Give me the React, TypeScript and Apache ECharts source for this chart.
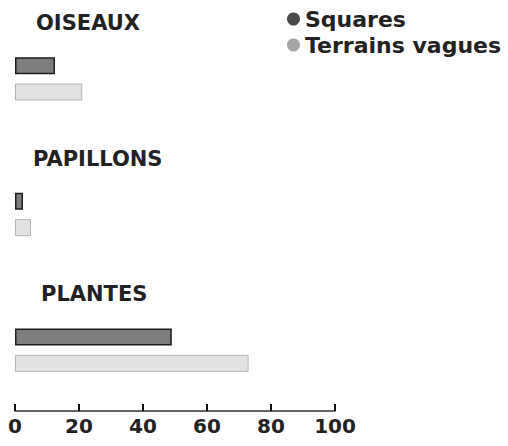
import React, { useEffect, useRef } from "react";
import * as echarts from "echarts";

const categories = ["OISEAUX", "PAPILLONS", "PLANTES"];
const squares = [12.5, 2.5, 49];
const terrainsVagues = [21, 5, 73];
const seriesNames = ["Squares", "Terrains vagues"];
const xTicks = [0, 20, 40, 60, 80, 100];

const labelX = [36, 33, 41];
const FONT = "'DejaVu Sans', sans-serif";
const TEXT = "#222222";

export default function App() {
  const ref = useRef<HTMLDivElement>(null);
  useEffect(() => {
    if (!ref.current) return;
    const chart = echarts.init(ref.current, null, { renderer: "svg" });
    chart.setOption({
      animation: false,
      backgroundColor: "#ffffff",
      textStyle: { fontFamily: FONT },
      legend: {
        orient: "vertical",
        left: 282,
        top: 3,
        icon: "circle",
        itemWidth: 13,
        itemHeight: 13,
        itemGap: 4,
        textStyle: { fontSize: 22, fontWeight: "bold", color: TEXT, fontFamily: FONT },
        data: [
          { name: seriesNames[0], itemStyle: { color: "#4a4a4a", borderWidth: 0 } },
          { name: seriesNames[1], itemStyle: { color: "#a5a5a5", borderWidth: 0 } },
        ],
      },
      grid: { left: 15, width: 320, top: 11, height: 407, containLabel: false },
      xAxis: {
        type: "value",
        min: xTicks[0],
        max: xTicks[xTicks.length - 1],
        interval: 20,
        offset: -7,
        splitLine: { show: false },
        axisLine: { show: true, lineStyle: { color: "#333", width: 1.5 } },
        axisTick: { show: true, inside: true, length: 7, lineStyle: { color: "#111", width: 2 } },
        axisLabel: { fontSize: 20, fontWeight: "bold", color: TEXT, margin: 5, fontFamily: FONT },
      },
      yAxis: {
        type: "category",
        data: categories,
        inverse: true,
        axisLine: { show: false },
        axisTick: { show: false },
        axisLabel: { show: false },
      },
      series: [
        {
          name: seriesNames[0],
          type: "bar",
          data: squares,
          barWidth: 17,
          barGap: "55%",
          itemStyle: { color: "#7d7d7d", borderColor: "#1e1e1e", borderWidth: 1.5 },
        },
        {
          name: seriesNames[1],
          type: "bar",
          data: terrainsVagues,
          barWidth: 17,
          itemStyle: { color: "#e2e2e2", borderColor: "#b5b5b5", borderWidth: 1 },
        },
      ],
    });
    const graphics = categories.map((c, i) => {
      const y = chart.convertToPixel({ yAxisIndex: 0 }, c) as number;
      return {
        type: "text",
        x: labelX[i],
        y: y - 56,
        style: {
          text: c,
          fontSize: 21,
          fontWeight: "bold",
          fill: TEXT,
          fontFamily: FONT,
          verticalAlign: "middle",
          align: "left",
        },
      };
    });
    chart.setOption({ graphic: graphics });
    return () => chart.dispose();
  }, []);
  return <div ref={ref} style={{ position: "fixed", left: 0, top: 0, width: 508, height: 446 }} />;
}
